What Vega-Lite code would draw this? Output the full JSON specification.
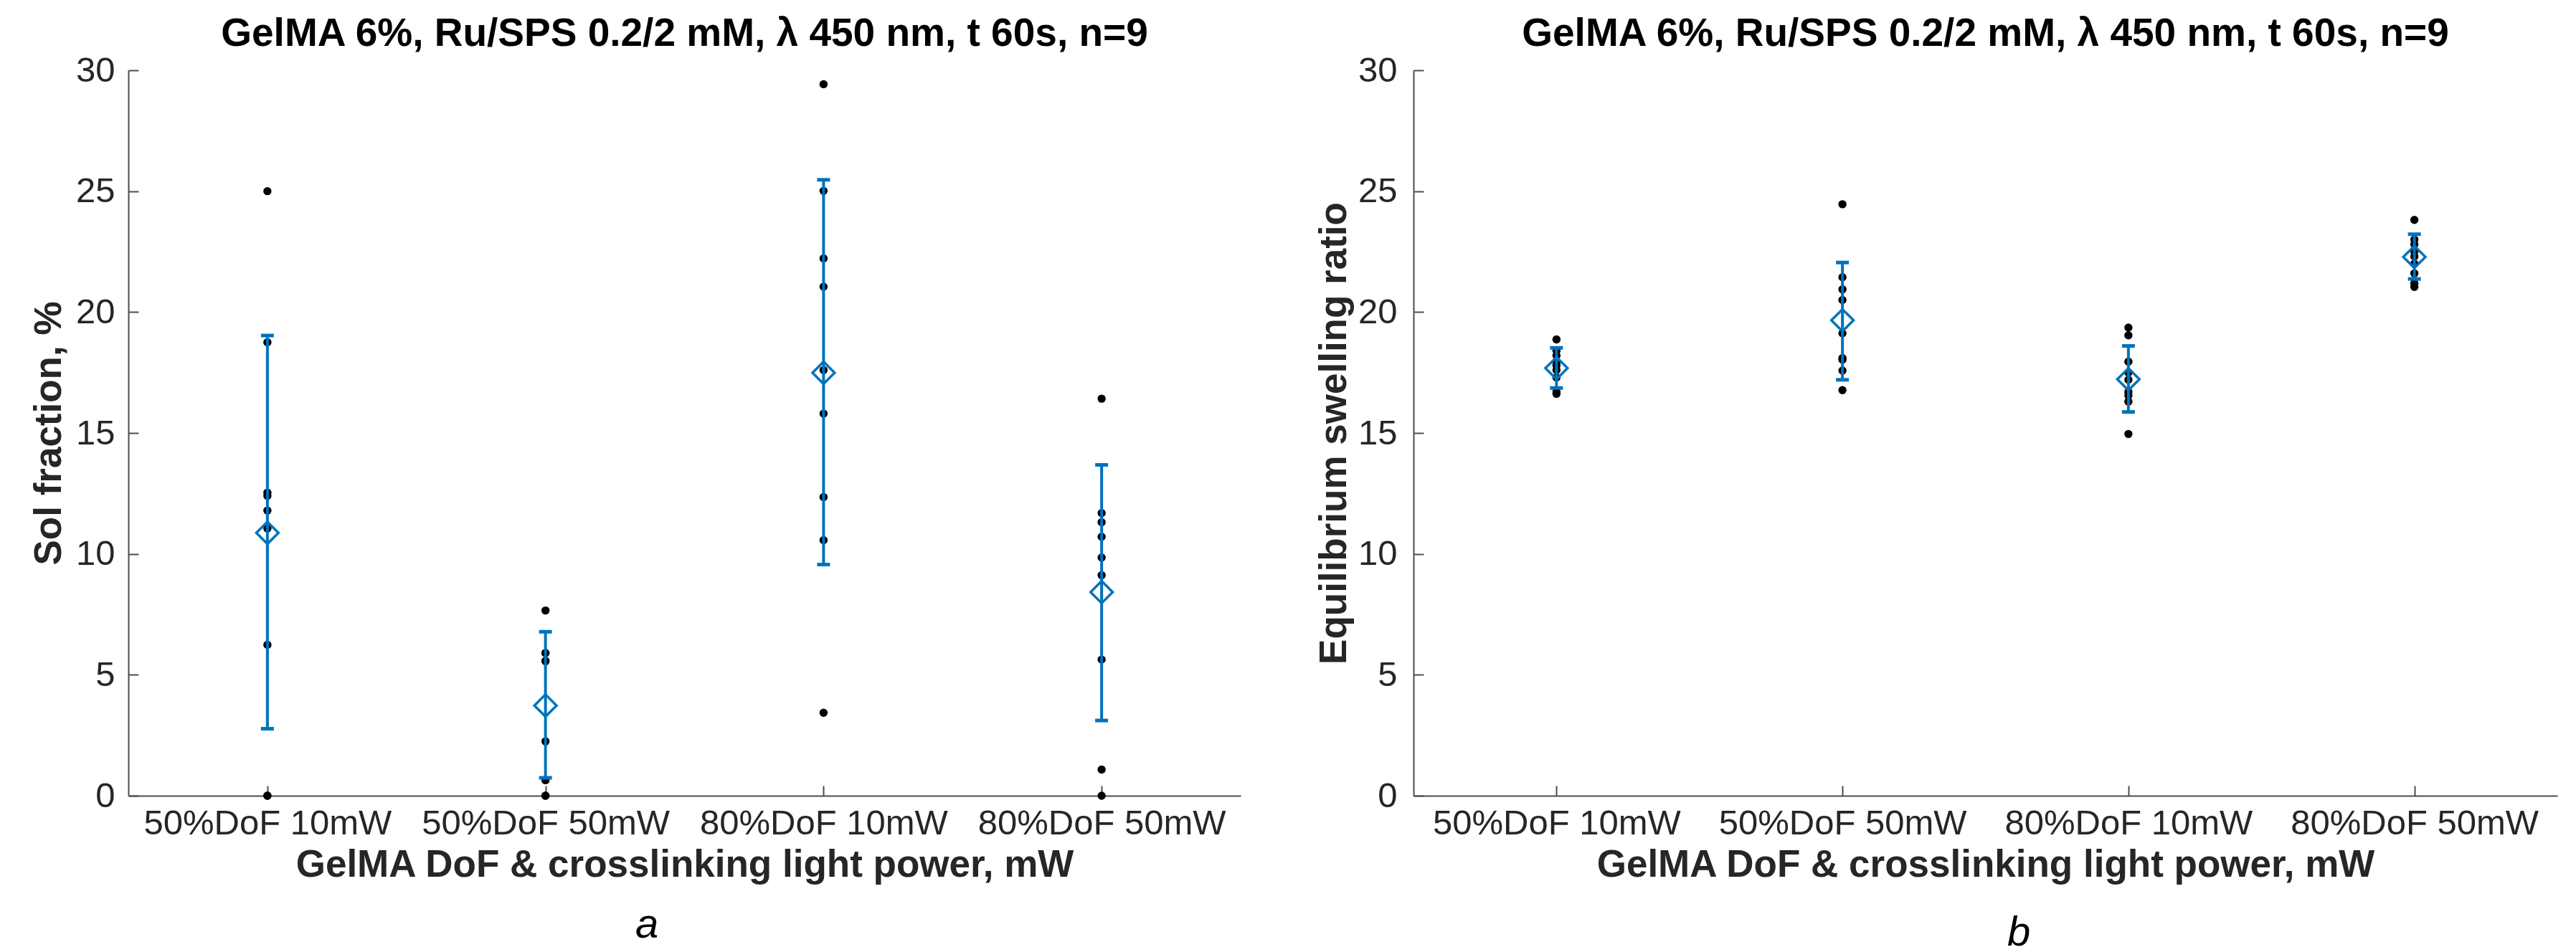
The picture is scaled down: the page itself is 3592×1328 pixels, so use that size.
{
  "$schema": "https://vega.github.io/schema/vega-lite/v6.json",
  "background": "white",
  "padding": {"left": 42, "top": 20, "right": 5, "bottom": 0},
  "autosize": {"type": "pad"},
  "spacing": 104,
  "config": {
    "view": {"stroke": null},
    "font": "Liberation Sans",
    "axis": {
      "grid": false,
      "domainColor": "#4d4d4d",
      "domainWidth": 2,
      "tickColor": "#4d4d4d",
      "tickWidth": 2,
      "tickSize": -14,
      "labelFont": "Liberation Sans",
      "labelFontSize": 49,
      "labelLimit": 0,
      "labelColor": "#262626",
      "titleFont": "Liberation Sans",
      "titleFontSize": 53,
      "titleFontWeight": "bold",
      "titleColor": "#262626"
    },
    "title": {"font": "Liberation Sans", "fontSize": 55, "fontWeight": "bold", "color": "#000000", "offset": -2}
  },
  "datasets": {
    "pointsA": [
      {"group": "50%DoF 10mW", "value": 25.0},
      {"group": "50%DoF 10mW", "value": 18.75},
      {"group": "50%DoF 10mW", "value": 12.53},
      {"group": "50%DoF 10mW", "value": 12.4},
      {"group": "50%DoF 10mW", "value": 11.79},
      {"group": "50%DoF 10mW", "value": 11.05},
      {"group": "50%DoF 10mW", "value": 6.24},
      {"group": "50%DoF 10mW", "value": 0},
      {"group": "50%DoF 10mW", "value": 0},
      {"group": "50%DoF 50mW", "value": 7.66},
      {"group": "50%DoF 50mW", "value": 5.9},
      {"group": "50%DoF 50mW", "value": 5.9},
      {"group": "50%DoF 50mW", "value": 5.57},
      {"group": "50%DoF 50mW", "value": 5.57},
      {"group": "50%DoF 50mW", "value": 2.25},
      {"group": "50%DoF 50mW", "value": 0.64},
      {"group": "50%DoF 50mW", "value": 0},
      {"group": "50%DoF 50mW", "value": 0},
      {"group": "80%DoF 10mW", "value": 29.42},
      {"group": "80%DoF 10mW", "value": 25.01},
      {"group": "80%DoF 10mW", "value": 22.22},
      {"group": "80%DoF 10mW", "value": 21.05},
      {"group": "80%DoF 10mW", "value": 17.6},
      {"group": "80%DoF 10mW", "value": 15.8},
      {"group": "80%DoF 10mW", "value": 12.35},
      {"group": "80%DoF 10mW", "value": 10.57},
      {"group": "80%DoF 10mW", "value": 3.43},
      {"group": "80%DoF 50mW", "value": 16.42},
      {"group": "80%DoF 50mW", "value": 11.69},
      {"group": "80%DoF 50mW", "value": 11.31},
      {"group": "80%DoF 50mW", "value": 10.71},
      {"group": "80%DoF 50mW", "value": 9.85},
      {"group": "80%DoF 50mW", "value": 9.12},
      {"group": "80%DoF 50mW", "value": 5.63},
      {"group": "80%DoF 50mW", "value": 1.08},
      {"group": "80%DoF 50mW", "value": 0}
    ],
    "summaryA": [
      {"group": "50%DoF 10mW", "mean": 10.87, "lower": 2.77, "upper": 19.03},
      {"group": "50%DoF 50mW", "mean": 3.73, "lower": 0.74, "upper": 6.78},
      {"group": "80%DoF 10mW", "mean": 17.49, "lower": 9.56, "upper": 25.47},
      {"group": "80%DoF 50mW", "mean": 8.42, "lower": 3.11, "upper": 13.68}
    ],
    "pointsB": [
      {"group": "50%DoF 10mW", "value": 18.87},
      {"group": "50%DoF 10mW", "value": 18.4},
      {"group": "50%DoF 10mW", "value": 18.2},
      {"group": "50%DoF 10mW", "value": 17.95},
      {"group": "50%DoF 10mW", "value": 17.8},
      {"group": "50%DoF 10mW", "value": 17.6},
      {"group": "50%DoF 10mW", "value": 17.3},
      {"group": "50%DoF 10mW", "value": 16.7},
      {"group": "50%DoF 10mW", "value": 16.62},
      {"group": "50%DoF 50mW", "value": 24.46},
      {"group": "50%DoF 50mW", "value": 21.44},
      {"group": "50%DoF 50mW", "value": 20.94},
      {"group": "50%DoF 50mW", "value": 20.5},
      {"group": "50%DoF 50mW", "value": 19.12},
      {"group": "50%DoF 50mW", "value": 18.1},
      {"group": "50%DoF 50mW", "value": 18.03},
      {"group": "50%DoF 50mW", "value": 17.58},
      {"group": "50%DoF 50mW", "value": 16.77},
      {"group": "80%DoF 10mW", "value": 19.36},
      {"group": "80%DoF 10mW", "value": 19.04},
      {"group": "80%DoF 10mW", "value": 17.95},
      {"group": "80%DoF 10mW", "value": 17.5},
      {"group": "80%DoF 10mW", "value": 17.2},
      {"group": "80%DoF 10mW", "value": 16.7},
      {"group": "80%DoF 10mW", "value": 16.55},
      {"group": "80%DoF 10mW", "value": 16.3},
      {"group": "80%DoF 10mW", "value": 14.96},
      {"group": "80%DoF 50mW", "value": 23.81},
      {"group": "80%DoF 50mW", "value": 23.0},
      {"group": "80%DoF 50mW", "value": 22.8},
      {"group": "80%DoF 50mW", "value": 22.5},
      {"group": "80%DoF 50mW", "value": 22.3},
      {"group": "80%DoF 50mW", "value": 22.0},
      {"group": "80%DoF 50mW", "value": 21.6},
      {"group": "80%DoF 50mW", "value": 21.19},
      {"group": "80%DoF 50mW", "value": 21.04}
    ],
    "summaryB": [
      {"group": "50%DoF 10mW", "mean": 17.68, "lower": 16.86, "upper": 18.52},
      {"group": "50%DoF 50mW", "mean": 19.66, "lower": 17.2, "upper": 22.05},
      {"group": "80%DoF 10mW", "mean": 17.22, "lower": 15.87, "upper": 18.6},
      {"group": "80%DoF 50mW", "mean": 22.28, "lower": 21.37, "upper": 23.22}
    ]
  },
  "hconcat": [
    {
      "title": {"text": "a", "orient": "bottom", "fontSize": 58, "fontWeight": "normal", "fontStyle": "italic", "color": "#000000", "offset": 29, "dx": 16, "anchor": "middle"},
      "vconcat": [
        {
          "width": 1551,
          "height": 1012,
          "title": {"text": "GelMA 6%, Ru/SPS 0.2/2 mM, λ 450 nm, t 60s, n=9"},
          "encoding": {
            "x": {"field": "group", "type": "nominal",
              "scale": {"type": "point", "domain": ["50%DoF 10mW", "50%DoF 50mW", "80%DoF 10mW", "80%DoF 50mW"], "padding": 0.5},
              "axis": {"title": "GelMA DoF & crosslinking light power, mW", "labelAngle": 0, "labelPadding": 28, "titlePadding": 7}}
          },
          "layer": [
            {
              "data": {"name": "pointsA"},
              "mark": {"type": "point", "shape": "circle", "filled": true, "size": 130, "color": "#000000", "opacity": 1},
              "encoding": {
                "y": {"field": "value", "type": "quantitative",
                  "scale": {"domain": [0, 30], "nice": false},
                  "axis": {"title": "Sol fraction, %", "values": [0, 5, 10, 15, 20, 25, 30], "labelPadding": 33, "titlePadding": 10}}
              }
            },
            {
              "data": {"name": "summaryA"},
              "mark": {"type": "rule", "color": "#0072BD", "strokeWidth": 4},
              "encoding": {
                "y": {"field": "lower", "type": "quantitative"},
                "y2": {"field": "upper"}
              }
            },
            {
              "data": {"name": "summaryA"},
              "mark": {"type": "tick", "color": "#0072BD", "size": 18, "thickness": 5, "opacity": 1},
              "encoding": {"y": {"field": "lower", "type": "quantitative"}}
            },
            {
              "data": {"name": "summaryA"},
              "mark": {"type": "tick", "color": "#0072BD", "size": 18, "thickness": 5, "opacity": 1},
              "encoding": {"y": {"field": "upper", "type": "quantitative"}}
            },
            {
              "data": {"name": "summaryA"},
              "mark": {"type": "point", "shape": "diamond", "filled": false, "size": 950, "strokeWidth": 3.5, "color": "#0072BD", "opacity": 1},
              "encoding": {"y": {"field": "mean", "type": "quantitative"}}
            }
          ]
        }
      ]
    },
    {
      "title": {"text": "b", "orient": "bottom", "fontSize": 58, "fontWeight": "normal", "fontStyle": "italic", "color": "#000000", "offset": 40, "dx": 115, "anchor": "middle"},
      "vconcat": [
        {
          "width": 1595,
          "height": 1012,
          "title": {"text": "GelMA 6%, Ru/SPS 0.2/2 mM, λ 450 nm, t 60s, n=9"},
          "encoding": {
            "x": {"field": "group", "type": "nominal",
              "scale": {"type": "point", "domain": ["50%DoF 10mW", "50%DoF 50mW", "80%DoF 10mW", "80%DoF 50mW"], "padding": 0.5},
              "axis": {"title": "GelMA DoF & crosslinking light power, mW", "labelAngle": 0, "labelPadding": 28, "titlePadding": 7}}
          },
          "layer": [
            {
              "data": {"name": "pointsB"},
              "mark": {"type": "point", "shape": "circle", "filled": true, "size": 130, "color": "#000000", "opacity": 1},
              "encoding": {
                "y": {"field": "value", "type": "quantitative",
                  "scale": {"domain": [0, 30], "nice": false},
                  "axis": {"title": "Equilibrium swelling ratio", "values": [0, 5, 10, 15, 20, 25, 30], "labelPadding": 37, "titlePadding": 6}}
              }
            },
            {
              "data": {"name": "summaryB"},
              "mark": {"type": "rule", "color": "#0072BD", "strokeWidth": 4},
              "encoding": {
                "y": {"field": "lower", "type": "quantitative"},
                "y2": {"field": "upper"}
              }
            },
            {
              "data": {"name": "summaryB"},
              "mark": {"type": "tick", "color": "#0072BD", "size": 18, "thickness": 5, "opacity": 1},
              "encoding": {"y": {"field": "lower", "type": "quantitative"}}
            },
            {
              "data": {"name": "summaryB"},
              "mark": {"type": "tick", "color": "#0072BD", "size": 18, "thickness": 5, "opacity": 1},
              "encoding": {"y": {"field": "upper", "type": "quantitative"}}
            },
            {
              "data": {"name": "summaryB"},
              "mark": {"type": "point", "shape": "diamond", "filled": false, "size": 950, "strokeWidth": 3.5, "color": "#0072BD", "opacity": 1},
              "encoding": {"y": {"field": "mean", "type": "quantitative"}}
            }
          ]
        }
      ]
    }
  ]
}
